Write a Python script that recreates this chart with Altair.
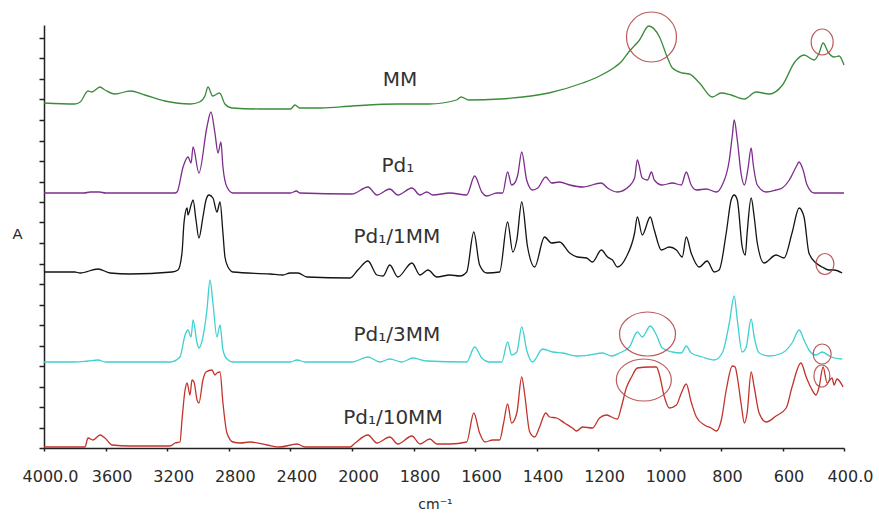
import altair as alt
import pandas as pd

# ---- axis ticks (wavenumber, cm-1) ----
X_TICKS = [4000, 3600, 3200, 2800, 2400, 2000, 1800, 1600, 1400, 1200, 1000, 800, 600, 400]

# ---- spectra: wavenumber (cm-1) and absorbance (arbitrary units, stacked) ----
MM_WN = [4000, 3800, 3765, 3714, 3690, 3636, 3604, 3540, 3440, 3345, 3215, 3050, 2990, 2955, 2935, 2905, 2860, 2825, 2780, 2600,
         2400, 2370, 2340, 2200, 2000, 1850, 1750, 1660, 1645, 1620, 1520, 1360, 1250, 1195, 1145, 1125, 1100, 1065, 1035, 1000,
         975, 958, 926, 903, 870, 828, 800, 767, 724, 686, 643, 600, 560, 530, 497, 481, 468, 452, 432, 416, 400]
MM_A = [345, 344, 346, 357, 356, 361, 358, 354, 357, 353, 347, 344, 346, 352, 361, 352, 355, 344, 340, 339,
        339, 343, 340, 340, 342, 344, 344, 348, 351, 348, 349, 355, 365, 372, 381, 386, 396, 408, 422, 411,
        391, 380, 375, 374, 365, 351, 355, 353, 349, 356, 354, 363, 386, 393, 388, 395, 405, 396, 391, 392, 383]

PD1_WN = [4000, 3740, 3700, 3640, 3600, 3150, 3136, 3097, 3065, 3045, 3032, 2994, 2942, 2916, 2890, 2870, 2851, 2838, 2812, 2773,
          2400, 2360, 2340, 2000, 1948, 1919, 1877, 1851, 1805, 1779, 1757, 1737, 1682, 1627, 1601, 1578, 1562, 1529, 1510, 1494,
          1481, 1471, 1461, 1448, 1432, 1413, 1396, 1370, 1351, 1325, 1292, 1250, 1189, 1169, 1137, 1098, 1081, 1072, 1056, 1039,
          1026, 1017, 991, 958, 929, 913, 897, 880, 848, 815, 796, 773, 763, 757, 747, 734, 724, 712, 702, 695,
          682, 653, 621, 601, 578, 556, 546, 533, 520, 497, 400]
PD1_A = [255, 255, 256, 256, 255, 255, 256, 281, 291, 285, 301, 275, 321, 336, 315, 295, 306, 281, 261, 255,
         255, 257, 255, 254, 261, 253, 259, 253, 260, 253, 256, 253, 255, 253, 272, 256, 252, 255, 255, 276,
         263, 265, 273, 296, 268, 258, 260, 271, 265, 266, 263, 261, 265, 260, 256, 262, 270, 288, 270, 268,
         276, 268, 263, 265, 263, 276, 263, 258, 259, 256, 263, 288, 313, 328, 308, 273, 263, 280, 300, 283,
         263, 256, 258, 260, 268, 281, 286, 278, 263, 255, 255]

PD1_1MM_WN = [4000, 3800, 3766, 3649, 3571, 3442, 3169, 3130, 3104, 3091, 3071, 3065, 3045, 3032, 3013, 2994, 2968, 2948, 2929, 2903,
              2877, 2857, 2838, 2825, 2805, 2773, 2532, 2448, 2403, 2351, 2292, 2013, 1981, 1948, 1919, 1899, 1877, 1851, 1805, 1779,
              1753, 1724, 1682, 1649, 1627, 1604, 1585, 1562, 1520, 1494, 1477, 1464, 1448, 1429, 1406, 1374, 1351, 1325, 1292, 1267,
              1237, 1218, 1189, 1169, 1153, 1137, 1108, 1081, 1072, 1056, 1030, 1017, 994, 968, 945, 926, 913, 897, 871, 845,
              822, 806, 783, 767, 757, 747, 731, 721, 715, 702, 692, 682, 660, 621, 595, 569, 546, 530, 514, 491,
              471, 449, 432, 406]
PD1_1MM_A = [176, 176, 175, 179, 175, 174, 176, 178, 195, 225, 240, 233, 243, 248, 228, 210, 231, 248, 253, 250,
             236, 246, 215, 191, 181, 176, 174, 173, 175, 175, 171, 170, 178, 187, 173, 172, 183, 171, 185, 173,
             178, 171, 173, 172, 176, 216, 183, 175, 176, 226, 196, 208, 246, 201, 181, 211, 205, 206, 195, 191,
             190, 186, 198, 191, 188, 181, 191, 215, 231, 213, 231, 218, 198, 201, 198, 191, 211, 195, 181, 187,
             176, 178, 215, 248, 253, 248, 201, 193, 215, 250, 231, 205, 185, 193, 190, 215, 240, 231, 195, 185,
             181, 178, 178, 175]

PD1_3MM_WN = [4000, 3800, 3714, 3649, 3600, 3180, 3117, 3084, 3065, 3045, 3032, 3006, 2994, 2968, 2942, 2922, 2903, 2877, 2857, 2838,
              2812, 2773, 2400, 2357, 2305, 2000, 1948, 1909, 1877, 1838, 1802, 1757, 1627, 1601, 1578, 1552, 1513, 1494, 1481, 1464,
              1448, 1432, 1413, 1380, 1347, 1315, 1270, 1228, 1185, 1156, 1130, 1098, 1072, 1056, 1030, 1010, 991, 958, 929, 913,
              897, 861, 822, 796, 773, 757, 747, 731, 718, 702, 692, 676, 643, 601, 569, 546, 530, 514, 491, 471,
              442, 406]
PD1_3MM_A = [86, 86, 87, 88, 86, 86, 91, 113, 118, 111, 128, 105, 100, 111, 138, 168, 145, 111, 123, 98,
             89, 86, 86, 88, 86, 86, 91, 86, 89, 86, 90, 87, 86, 101, 90, 86, 86, 106, 93, 96,
             121, 98, 86, 99, 96, 95, 92, 93, 95, 92, 95, 101, 116, 111, 122, 113, 100, 96, 95, 102,
             95, 91, 88, 95, 125, 152, 128, 96, 101, 129, 111, 95, 92, 95, 105, 118, 108, 98, 93, 96,
             91, 89]

PD1_10MM_WN = [4000, 3734, 3714, 3682, 3636, 3604, 3558, 3442, 3182, 3149, 3117, 3104, 3084, 3071, 3052, 3039, 3026, 3006, 2994, 2968,
               2948, 2909, 2890, 2877, 2857, 2838, 2812, 2773, 2727, 2662, 2552, 2468, 2357, 2305, 2013, 1990, 1948, 1919, 1877, 1851,
               1805, 1779, 1747, 1724, 1682, 1627, 1604, 1585, 1568, 1542, 1520, 1507, 1494, 1481, 1464, 1448, 1439, 1422, 1406, 1390,
               1370, 1357, 1335, 1309, 1283, 1270, 1250, 1218, 1195, 1172, 1156, 1137, 1124, 1108, 1091, 1072, 1033, 1010, 1000, 984,
               968, 945, 929, 913, 897, 880, 854, 832, 815, 799, 783, 763, 754, 747, 734, 724, 715, 702, 692, 676,
               653, 621, 588, 569, 540, 523, 507, 491, 481, 468, 455, 439, 432, 423, 403]
PD1_10MM_A = [1, 1, 10, 8, 13, 10, 3, 2, 2, 5, 6, 28, 58, 65, 53, 68, 66, 48, 45, 68,
              76, 78, 73, 75, 76, 45, 15, 6, 5, 6, 3, 1, 4, 1, 1, 5, 13, 5, 11, 4,
              12, 4, 9, 4, 4, 6, 35, 15, 6, 8, 8, 25, 44, 25, 35, 71, 55, 16, 11, 21,
              35, 31, 30, 25, 20, 17, 21, 20, 30, 33, 31, 29, 41, 60, 71, 80, 81, 81, 73, 51,
              40, 43, 55, 64, 46, 31, 23, 20, 17, 28, 58, 82, 81, 71, 43, 25, 35, 76, 61, 35,
              26, 32, 40, 61, 85, 71, 60, 53, 61, 81, 65, 70, 63, 69, 61]

SERIES = ["MM", "Pd1", "Pd1/1MM", "Pd1/3MM", "Pd1/10MM"]
COLORS = ["#3a8c3a", "#7d2e8c", "#141414", "#3fd0d0", "#c0342c"]

# ---- curve labels ----
LABEL_TEXT = ["MM", "Pd₁", "Pd₁/1MM", "Pd₁/3MM", "Pd₁/10MM"]
LABEL_WN = [1844, 1851, 1854, 1854, 1867]
LABEL_A = [368, 282, 211, 113, 30]

# ---- highlighted bands (ellipses): centre and radii ----
CIRCLE_WN = [1026, 471, 462, 1039, 1051, 471, 472]
CIRCLE_A = [411, 406, 184, 114, 68, 94, 72]
CIRCLE_RX = [25, 11, 9, 28, 27.5, 9, 8]
CIRCLE_RY = [25, 13, 10.5, 22, 21, 10, 11]

rows = []
for name, wn, a in zip(SERIES, [MM_WN, PD1_WN, PD1_1MM_WN, PD1_3MM_WN, PD1_10MM_WN],
                       [MM_A, PD1_A, PD1_1MM_A, PD1_3MM_A, PD1_10MM_A]):
    for i, (w, v) in enumerate(zip(wn, a)):
        rows.append({"series": name, "i": i, "wn": w, "A": v})
spec_df = pd.DataFrame(rows)

lab_df = pd.DataFrame({"text": LABEL_TEXT, "wn": LABEL_WN, "A": LABEL_A})

circ_rows = []
for w, a, rx, ry in zip(CIRCLE_WN, CIRCLE_A, CIRCLE_RX, CIRCLE_RY):
    k = ry / rx
    path = f"M -1 0 A 1 {k:.3f} 0 1 0 1 0 A 1 {k:.3f} 0 1 0 -1 0 Z"
    circ_rows.append({"wn": w, "A": a, "shape": path, "sz": (2 * rx) ** 2})
circ_df = pd.DataFrame(circ_rows)

xscale = alt.Scale(domain=[4000, 2000, 400], range=[0, 308, 800], nice=False, zero=False)
yscale = alt.Scale(domain=[0, 423], nice=False, zero=False)

label_expr = "datum.value == 4000 ? '4000.0' : (datum.value == 400 ? '400.0' : format(datum.value, 'd'))"

x_axis = alt.Axis(
    values=X_TICKS, labelExpr=label_expr, grid=False, tickSize=3, tickWidth=1.5,
    domainColor="#222", tickColor="#222", domainWidth=1.5,
    labelFont="DejaVu Sans", labelFontSize=16, labelColor="#2a2a2a",
    labelPadding=17, labelOffset=6, labelFlush=False, labelOverlap=False, labelBound=False,
    title="cm⁻¹", titleFont="DejaVu Sans", titleFontSize=14, titleFontWeight="normal",
    titleColor="#2a2a2a", titleX=391, titleY=56, titleAlign="center", titleBaseline="middle",
)
y_axis = alt.Axis(
    values=[i * 20.5 for i in range(21)], labels=False, grid=False, tickSize=5, tickWidth=1.5,
    domainColor="#222", tickColor="#222", domainWidth=1.5,
    title="A", titleAngle=0, titleX=-27, titleY=208, titleAlign="center", titleBaseline="middle",
    titleFont="Liberation Sans", titleFontSize=15, titleFontWeight="normal", titleColor="#2a2a2a",
)

X = alt.X("wn:Q", scale=xscale, axis=x_axis)
Y = alt.Y("A:Q", scale=yscale, axis=y_axis)

lines = alt.Chart(spec_df).mark_line(strokeWidth=1.3, interpolate="monotone").encode(
    x=X, y=Y,
    color=alt.Color("series:N", scale=alt.Scale(domain=SERIES, range=COLORS), legend=None),
    detail="series:N",
    order=alt.Order("i:Q"),
)

labels = alt.Chart(lab_df).mark_text(
    font="DejaVu Sans", fontSize=20, color="#333333", align="center", baseline="middle"
).encode(x=X, y=Y, text="text:N")

circles = alt.Chart(circ_df).mark_point(filled=False, strokeWidth=1.2, color="#b5484a", opacity=0.9).encode(
    x=X, y=Y,
    shape=alt.Shape("shape:N", scale=None),
    size=alt.Size("sz:Q", scale=None),
)

chart = alt.layer(lines, labels, circles).properties(
    width=800, height=423,
    padding={"left": 44, "top": 25, "right": 35, "bottom": 66},
    autosize=alt.AutoSizeParams(type="none"),
    background="white",
).configure_view(stroke=None)

chart.save("out.html", embed_options={"renderer": "svg", "actions": False})
